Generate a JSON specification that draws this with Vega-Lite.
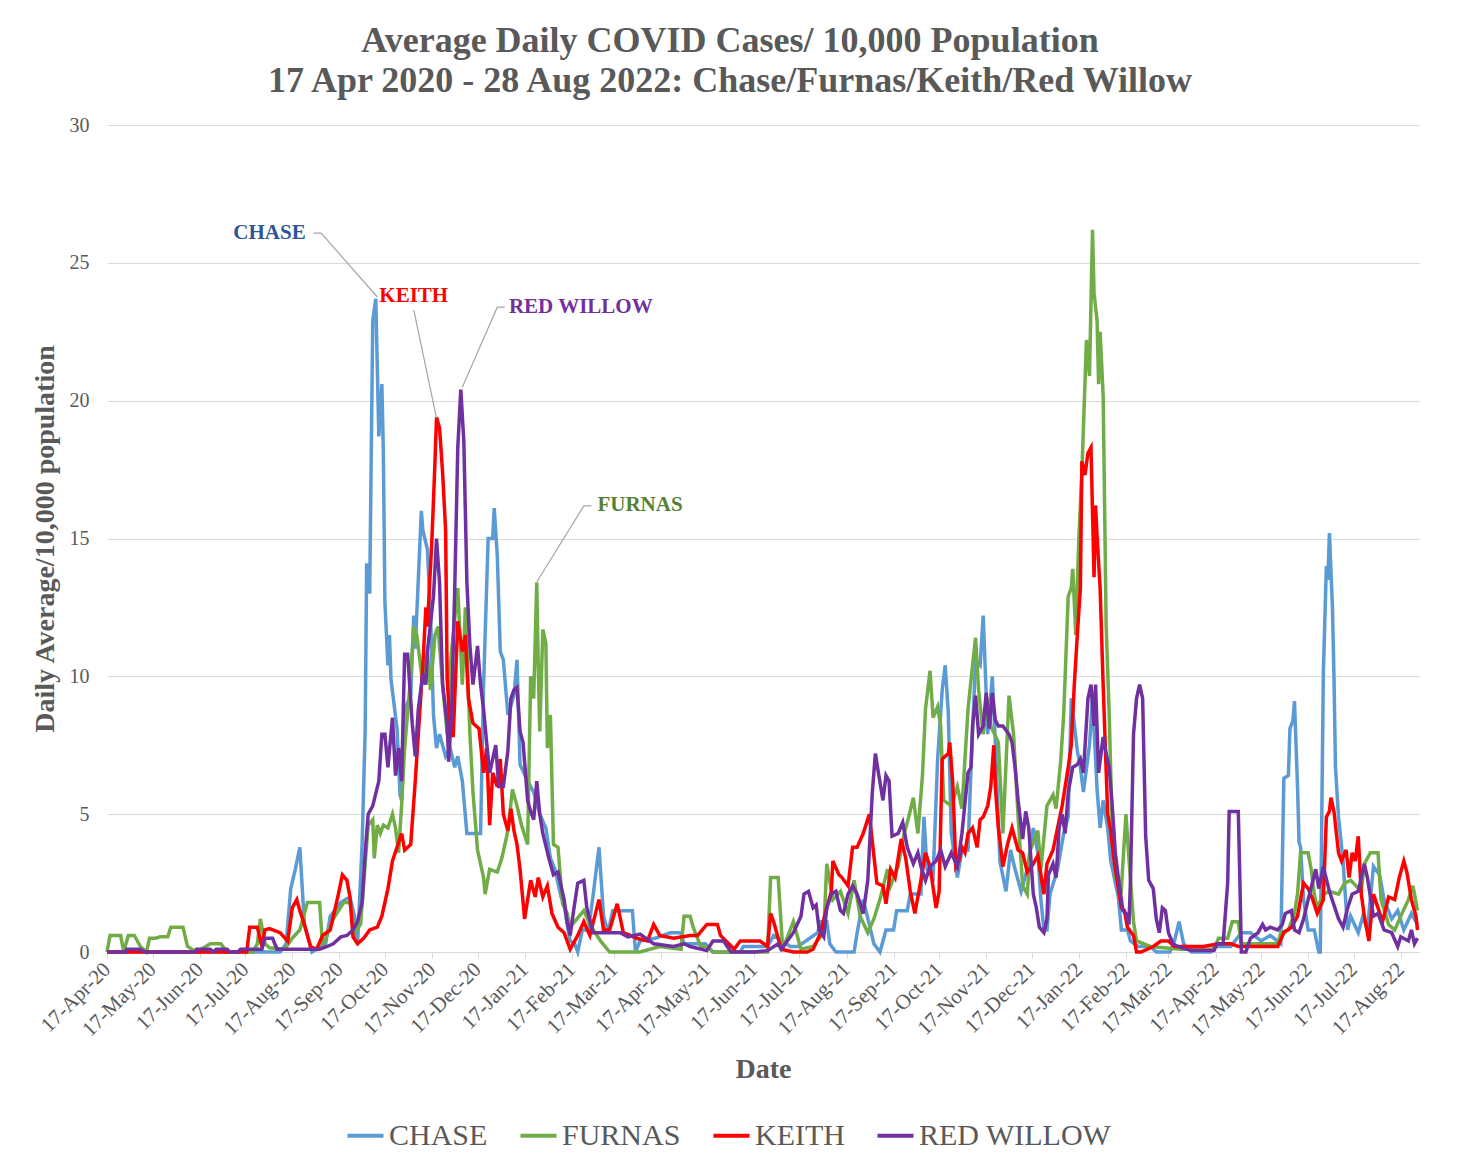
{
"$schema": "https://vega.github.io/schema/vega-lite/v6.json",
"width": 1312, "height": 827,
"autosize": {"type": "none"},
"padding": {"left": 107, "top": 125, "right": 41, "bottom": 213},
"background": "white",
"config": {"view": {"stroke": null}, "font": "Liberation Serif"},
"title": {"text": ["Average Daily COVID Cases/ 10,000 Population", "17 Apr 2020 - 28 Aug 2022: Chase/Furnas/Keith/Red Willow"], "font": "Liberation Serif", "fontSize": 36, "fontWeight": "bold", "color": "#595959", "lineHeight": 40, "anchor": "middle", "dx": -33, "offset": 15},
"datasets": {
"series": [
{"county":"CHASE","date":"2020-04-17","value":0},{"county":"CHASE","date":"2020-08-09","value":0},{"county":"CHASE","date":"2020-08-13","value":0.3},{"county":"CHASE","date":"2020-08-16","value":2.3},{"county":"CHASE","date":"2020-08-19","value":3},{"county":"CHASE","date":"2020-08-22","value":3.8},{"county":"CHASE","date":"2020-08-25","value":1},{"county":"CHASE","date":"2020-08-30","value":0},{"county":"CHASE","date":"2020-09-08","value":0.3},{"county":"CHASE","date":"2020-09-11","value":1.3},{"county":"CHASE","date":"2020-09-18","value":1.8},{"county":"CHASE","date":"2020-09-24","value":2},{"county":"CHASE","date":"2020-09-27","value":1.3},{"county":"CHASE","date":"2020-09-29","value":0.3},{"county":"CHASE","date":"2020-10-02","value":3.9},{"county":"CHASE","date":"2020-10-04","value":8},{"county":"CHASE","date":"2020-10-05","value":14.1},{"county":"CHASE","date":"2020-10-07","value":13},{"county":"CHASE","date":"2020-10-09","value":22.9},{"county":"CHASE","date":"2020-10-11","value":23.7},{"county":"CHASE","date":"2020-10-13","value":18.7},{"county":"CHASE","date":"2020-10-15","value":20.6},{"county":"CHASE","date":"2020-10-16","value":18.1},{"county":"CHASE","date":"2020-10-17","value":12.7},{"county":"CHASE","date":"2020-10-19","value":10.4},{"county":"CHASE","date":"2020-10-20","value":11.5},{"county":"CHASE","date":"2020-10-21","value":9.9},{"county":"CHASE","date":"2020-10-23","value":9},{"county":"CHASE","date":"2020-10-25","value":8.1},{"county":"CHASE","date":"2020-10-27","value":5.7},{"county":"CHASE","date":"2020-10-28","value":5.5},{"county":"CHASE","date":"2020-10-30","value":8.8},{"county":"CHASE","date":"2020-11-03","value":9.3},{"county":"CHASE","date":"2020-11-05","value":12.2},{"county":"CHASE","date":"2020-11-06","value":11},{"county":"CHASE","date":"2020-11-08","value":13.5},{"county":"CHASE","date":"2020-11-10","value":16},{"county":"CHASE","date":"2020-11-11","value":15.3},{"county":"CHASE","date":"2020-11-14","value":14.6},{"county":"CHASE","date":"2020-11-16","value":12.3},{"county":"CHASE","date":"2020-11-18","value":8.6},{"county":"CHASE","date":"2020-11-20","value":7.4},{"county":"CHASE","date":"2020-11-22","value":7.9},{"county":"CHASE","date":"2020-11-26","value":7.1},{"county":"CHASE","date":"2020-11-29","value":7.4},{"county":"CHASE","date":"2020-12-02","value":6.7},{"county":"CHASE","date":"2020-12-04","value":7.1},{"county":"CHASE","date":"2020-12-07","value":6.2},{"county":"CHASE","date":"2020-12-10","value":4.3},{"county":"CHASE","date":"2020-12-14","value":4.3},{"county":"CHASE","date":"2020-12-19","value":4.3},{"county":"CHASE","date":"2020-12-21","value":9.7},{"county":"CHASE","date":"2020-12-24","value":15},{"county":"CHASE","date":"2020-12-27","value":15},{"county":"CHASE","date":"2020-12-28","value":16.1},{"county":"CHASE","date":"2020-12-30","value":14.4},{"county":"CHASE","date":"2021-01-01","value":10.9},{"county":"CHASE","date":"2021-01-03","value":10.6},{"county":"CHASE","date":"2021-01-06","value":8.6},{"county":"CHASE","date":"2021-01-10","value":9.3},{"county":"CHASE","date":"2021-01-12","value":10.6},{"county":"CHASE","date":"2021-01-14","value":6.8},{"county":"CHASE","date":"2021-01-19","value":6.2},{"county":"CHASE","date":"2021-01-23","value":5.8},{"county":"CHASE","date":"2021-01-27","value":5},{"county":"CHASE","date":"2021-01-31","value":4.5},{"county":"CHASE","date":"2021-02-03","value":3.4},{"county":"CHASE","date":"2021-02-06","value":3},{"county":"CHASE","date":"2021-02-10","value":2},{"county":"CHASE","date":"2021-02-12","value":1.75},{"county":"CHASE","date":"2021-02-14","value":1},{"county":"CHASE","date":"2021-02-16","value":0.4},{"county":"CHASE","date":"2021-02-19","value":0.3},{"county":"CHASE","date":"2021-02-21","value":0},{"county":"CHASE","date":"2021-02-24","value":0.8},{"county":"CHASE","date":"2021-02-28","value":0.8},{"county":"CHASE","date":"2021-03-03","value":2},{"county":"CHASE","date":"2021-03-07","value":3.8},{"county":"CHASE","date":"2021-03-10","value":1.3},{"county":"CHASE","date":"2021-03-13","value":0.7},{"county":"CHASE","date":"2021-03-16","value":1.5},{"county":"CHASE","date":"2021-03-29","value":1.5},{"county":"CHASE","date":"2021-03-31","value":0},{"county":"CHASE","date":"2021-04-03","value":0.4},{"county":"CHASE","date":"2021-04-13","value":0.5},{"county":"CHASE","date":"2021-04-23","value":0.7},{"county":"CHASE","date":"2021-04-30","value":0.7},{"county":"CHASE","date":"2021-05-02","value":0.3},{"county":"CHASE","date":"2021-05-16","value":0.3},{"county":"CHASE","date":"2021-05-21","value":0},{"county":"CHASE","date":"2021-06-08","value":0},{"county":"CHASE","date":"2021-06-10","value":0.2},{"county":"CHASE","date":"2021-06-26","value":0.2},{"county":"CHASE","date":"2021-06-30","value":0.6},{"county":"CHASE","date":"2021-07-11","value":0.2},{"county":"CHASE","date":"2021-07-16","value":0.2},{"county":"CHASE","date":"2021-07-29","value":0.7},{"county":"CHASE","date":"2021-07-31","value":1.1},{"county":"CHASE","date":"2021-08-04","value":1.1},{"county":"CHASE","date":"2021-08-06","value":0.3},{"county":"CHASE","date":"2021-08-10","value":0},{"county":"CHASE","date":"2021-08-22","value":0},{"county":"CHASE","date":"2021-08-24","value":0.7},{"county":"CHASE","date":"2021-08-28","value":1.9},{"county":"CHASE","date":"2021-09-01","value":1},{"county":"CHASE","date":"2021-09-04","value":0.3},{"county":"CHASE","date":"2021-09-08","value":0},{"county":"CHASE","date":"2021-09-12","value":0.8},{"county":"CHASE","date":"2021-09-17","value":0.8},{"county":"CHASE","date":"2021-09-19","value":1.5},{"county":"CHASE","date":"2021-09-26","value":1.5},{"county":"CHASE","date":"2021-09-28","value":2.1},{"county":"CHASE","date":"2021-10-05","value":2.1},{"county":"CHASE","date":"2021-10-07","value":4.9},{"county":"CHASE","date":"2021-10-09","value":3},{"county":"CHASE","date":"2021-10-13","value":2.7},{"county":"CHASE","date":"2021-10-16","value":7},{"county":"CHASE","date":"2021-10-19","value":9.5},{"county":"CHASE","date":"2021-10-21","value":10.4},{"county":"CHASE","date":"2021-10-23","value":8.7},{"county":"CHASE","date":"2021-10-25","value":4.3},{"county":"CHASE","date":"2021-10-29","value":2.7},{"county":"CHASE","date":"2021-11-01","value":3.7},{"county":"CHASE","date":"2021-11-05","value":3.7},{"county":"CHASE","date":"2021-11-07","value":6.7},{"county":"CHASE","date":"2021-11-10","value":10.6},{"county":"CHASE","date":"2021-11-13","value":10.4},{"county":"CHASE","date":"2021-11-15","value":12.2},{"county":"CHASE","date":"2021-11-18","value":7.9},{"county":"CHASE","date":"2021-11-21","value":10},{"county":"CHASE","date":"2021-11-23","value":7.6},{"county":"CHASE","date":"2021-11-26","value":3.3},{"county":"CHASE","date":"2021-11-30","value":2.2},{"county":"CHASE","date":"2021-12-03","value":3.7},{"county":"CHASE","date":"2021-12-06","value":3},{"county":"CHASE","date":"2021-12-10","value":2.2},{"county":"CHASE","date":"2021-12-14","value":3},{"county":"CHASE","date":"2021-12-18","value":4.5},{"county":"CHASE","date":"2021-12-21","value":3.6},{"county":"CHASE","date":"2021-12-23","value":1.9},{"county":"CHASE","date":"2021-12-25","value":0.8},{"county":"CHASE","date":"2021-12-27","value":0.8},{"county":"CHASE","date":"2021-12-29","value":2.1},{"county":"CHASE","date":"2022-01-03","value":3},{"county":"CHASE","date":"2022-01-07","value":4.3},{"county":"CHASE","date":"2022-01-10","value":4.9},{"county":"CHASE","date":"2022-01-12","value":9.2},{"county":"CHASE","date":"2022-01-16","value":7.3},{"county":"CHASE","date":"2022-01-18","value":6.7},{"county":"CHASE","date":"2022-01-20","value":5.8},{"county":"CHASE","date":"2022-01-24","value":7.5},{"county":"CHASE","date":"2022-01-26","value":9.2},{"county":"CHASE","date":"2022-01-29","value":5.9},{"county":"CHASE","date":"2022-01-31","value":4.5},{"county":"CHASE","date":"2022-02-02","value":5.5},{"county":"CHASE","date":"2022-02-05","value":4.5},{"county":"CHASE","date":"2022-02-07","value":3.3},{"county":"CHASE","date":"2022-02-12","value":2},{"county":"CHASE","date":"2022-02-14","value":0.8},{"county":"CHASE","date":"2022-02-18","value":0.8},{"county":"CHASE","date":"2022-02-20","value":0.4},{"county":"CHASE","date":"2022-02-25","value":0.2},{"county":"CHASE","date":"2022-03-05","value":0.2},{"county":"CHASE","date":"2022-03-09","value":0},{"county":"CHASE","date":"2022-03-18","value":0},{"county":"CHASE","date":"2022-03-21","value":0.4},{"county":"CHASE","date":"2022-03-24","value":1.1},{"county":"CHASE","date":"2022-03-27","value":0.3},{"county":"CHASE","date":"2022-04-01","value":0},{"county":"CHASE","date":"2022-04-14","value":0},{"county":"CHASE","date":"2022-04-16","value":0.2},{"county":"CHASE","date":"2022-04-27","value":0.2},{"county":"CHASE","date":"2022-05-04","value":0.7},{"county":"CHASE","date":"2022-05-10","value":0.7},{"county":"CHASE","date":"2022-05-17","value":0.4},{"county":"CHASE","date":"2022-05-23","value":0.6},{"county":"CHASE","date":"2022-05-30","value":0.3},{"county":"CHASE","date":"2022-06-01","value":6.3},{"county":"CHASE","date":"2022-06-04","value":6.4},{"county":"CHASE","date":"2022-06-05","value":8.1},{"county":"CHASE","date":"2022-06-07","value":8.4},{"county":"CHASE","date":"2022-06-08","value":9.1},{"county":"CHASE","date":"2022-06-10","value":6},{"county":"CHASE","date":"2022-06-11","value":4},{"county":"CHASE","date":"2022-06-12","value":3.8},{"county":"CHASE","date":"2022-06-14","value":1.9},{"county":"CHASE","date":"2022-06-17","value":0.8},{"county":"CHASE","date":"2022-06-21","value":0.8},{"county":"CHASE","date":"2022-06-24","value":0},{"county":"CHASE","date":"2022-06-25","value":0},{"county":"CHASE","date":"2022-06-27","value":10.1},{"county":"CHASE","date":"2022-06-29","value":14},{"county":"CHASE","date":"2022-06-30","value":13.5},{"county":"CHASE","date":"2022-07-01","value":15.2},{"county":"CHASE","date":"2022-07-03","value":12.5},{"county":"CHASE","date":"2022-07-04","value":10},{"county":"CHASE","date":"2022-07-05","value":6.7},{"county":"CHASE","date":"2022-07-07","value":4.9},{"county":"CHASE","date":"2022-07-10","value":3.3},{"county":"CHASE","date":"2022-07-13","value":0.8},{"county":"CHASE","date":"2022-07-15","value":1.3},{"county":"CHASE","date":"2022-07-20","value":0.7},{"county":"CHASE","date":"2022-07-23","value":1.3},{"county":"CHASE","date":"2022-07-26","value":0.8},{"county":"CHASE","date":"2022-07-30","value":3.1},{"county":"CHASE","date":"2022-08-03","value":2.8},{"county":"CHASE","date":"2022-08-06","value":1.9},{"county":"CHASE","date":"2022-08-11","value":1.2},{"county":"CHASE","date":"2022-08-15","value":1.5},{"county":"CHASE","date":"2022-08-19","value":0.8},{"county":"CHASE","date":"2022-08-24","value":1.4},{"county":"CHASE","date":"2022-08-28","value":1},
{"county":"FURNAS","date":"2020-04-17","value":0},{"county":"FURNAS","date":"2020-04-19","value":0.6},{"county":"FURNAS","date":"2020-04-26","value":0.6},{"county":"FURNAS","date":"2020-04-28","value":0},{"county":"FURNAS","date":"2020-05-01","value":0.6},{"county":"FURNAS","date":"2020-05-05","value":0.6},{"county":"FURNAS","date":"2020-05-09","value":0.2},{"county":"FURNAS","date":"2020-05-13","value":0},{"county":"FURNAS","date":"2020-05-15","value":0.5},{"county":"FURNAS","date":"2020-05-19","value":0.5},{"county":"FURNAS","date":"2020-05-22","value":0.55},{"county":"FURNAS","date":"2020-05-27","value":0.55},{"county":"FURNAS","date":"2020-05-29","value":0.9},{"county":"FURNAS","date":"2020-06-06","value":0.9},{"county":"FURNAS","date":"2020-06-09","value":0.2},{"county":"FURNAS","date":"2020-06-15","value":0},{"county":"FURNAS","date":"2020-06-24","value":0.3},{"county":"FURNAS","date":"2020-07-01","value":0.3},{"county":"FURNAS","date":"2020-07-05","value":0},{"county":"FURNAS","date":"2020-07-22","value":0},{"county":"FURNAS","date":"2020-07-25","value":0.3},{"county":"FURNAS","date":"2020-07-27","value":1.2},{"county":"FURNAS","date":"2020-07-30","value":0.3},{"county":"FURNAS","date":"2020-08-02","value":0.15},{"county":"FURNAS","date":"2020-08-12","value":0.1},{"county":"FURNAS","date":"2020-08-17","value":0.5},{"county":"FURNAS","date":"2020-08-22","value":0.8},{"county":"FURNAS","date":"2020-08-27","value":1.8},{"county":"FURNAS","date":"2020-09-04","value":1.8},{"county":"FURNAS","date":"2020-09-06","value":0.2},{"county":"FURNAS","date":"2020-09-13","value":1.2},{"county":"FURNAS","date":"2020-09-20","value":1.8},{"county":"FURNAS","date":"2020-09-24","value":1.8},{"county":"FURNAS","date":"2020-09-27","value":0.7},{"county":"FURNAS","date":"2020-10-01","value":1},{"county":"FURNAS","date":"2020-10-04","value":3.2},{"county":"FURNAS","date":"2020-10-06","value":4.6},{"county":"FURNAS","date":"2020-10-09","value":4.8},{"county":"FURNAS","date":"2020-10-10","value":3.4},{"county":"FURNAS","date":"2020-10-12","value":4.6},{"county":"FURNAS","date":"2020-10-14","value":4.3},{"county":"FURNAS","date":"2020-10-16","value":4.6},{"county":"FURNAS","date":"2020-10-19","value":4.5},{"county":"FURNAS","date":"2020-10-22","value":5},{"county":"FURNAS","date":"2020-10-24","value":4.5},{"county":"FURNAS","date":"2020-10-26","value":3.6},{"county":"FURNAS","date":"2020-10-28","value":5.3},{"county":"FURNAS","date":"2020-10-30","value":7.4},{"county":"FURNAS","date":"2020-11-03","value":10},{"county":"FURNAS","date":"2020-11-05","value":11.8},{"county":"FURNAS","date":"2020-11-07","value":11.5},{"county":"FURNAS","date":"2020-11-11","value":9.7},{"county":"FURNAS","date":"2020-11-14","value":10.9},{"county":"FURNAS","date":"2020-11-16","value":9.5},{"county":"FURNAS","date":"2020-11-19","value":11.5},{"county":"FURNAS","date":"2020-11-21","value":11.8},{"county":"FURNAS","date":"2020-11-24","value":9.7},{"county":"FURNAS","date":"2020-11-27","value":7.9},{"county":"FURNAS","date":"2020-11-29","value":10.4},{"county":"FURNAS","date":"2020-12-04","value":13.2},{"county":"FURNAS","date":"2020-12-07","value":9.7},{"county":"FURNAS","date":"2020-12-09","value":12.5},{"county":"FURNAS","date":"2020-12-12","value":7.9},{"county":"FURNAS","date":"2020-12-14","value":5.8},{"county":"FURNAS","date":"2020-12-17","value":3.7},{"county":"FURNAS","date":"2020-12-19","value":3.2},{"county":"FURNAS","date":"2020-12-21","value":2.7},{"county":"FURNAS","date":"2020-12-22","value":2.1},{"county":"FURNAS","date":"2020-12-25","value":3},{"county":"FURNAS","date":"2020-12-30","value":2.9},{"county":"FURNAS","date":"2021-01-02","value":3.4},{"county":"FURNAS","date":"2021-01-06","value":4.4},{"county":"FURNAS","date":"2021-01-09","value":5.9},{"county":"FURNAS","date":"2021-01-12","value":5.3},{"county":"FURNAS","date":"2021-01-15","value":4.6},{"county":"FURNAS","date":"2021-01-19","value":3.9},{"county":"FURNAS","date":"2021-01-21","value":10},{"county":"FURNAS","date":"2021-01-23","value":9.2},{"county":"FURNAS","date":"2021-01-25","value":13.4},{"county":"FURNAS","date":"2021-01-26","value":10.3},{"county":"FURNAS","date":"2021-01-27","value":8},{"county":"FURNAS","date":"2021-01-29","value":11.7},{"county":"FURNAS","date":"2021-01-31","value":11.2},{"county":"FURNAS","date":"2021-02-01","value":7.4},{"county":"FURNAS","date":"2021-02-03","value":8.6},{"county":"FURNAS","date":"2021-02-05","value":3.9},{"county":"FURNAS","date":"2021-02-08","value":3.8},{"county":"FURNAS","date":"2021-02-11","value":1.75},{"county":"FURNAS","date":"2021-02-14","value":1.4},{"county":"FURNAS","date":"2021-02-16","value":0.9},{"county":"FURNAS","date":"2021-02-25","value":1.5},{"county":"FURNAS","date":"2021-03-01","value":1},{"county":"FURNAS","date":"2021-03-08","value":0.4},{"county":"FURNAS","date":"2021-03-14","value":0},{"county":"FURNAS","date":"2021-04-03","value":0},{"county":"FURNAS","date":"2021-04-16","value":0.2},{"county":"FURNAS","date":"2021-04-30","value":0.1},{"county":"FURNAS","date":"2021-05-02","value":1.3},{"county":"FURNAS","date":"2021-05-06","value":1.3},{"county":"FURNAS","date":"2021-05-08","value":0.9},{"county":"FURNAS","date":"2021-05-13","value":0.2},{"county":"FURNAS","date":"2021-05-17","value":0.2},{"county":"FURNAS","date":"2021-05-21","value":0},{"county":"FURNAS","date":"2021-06-26","value":0},{"county":"FURNAS","date":"2021-06-28","value":2.7},{"county":"FURNAS","date":"2021-07-03","value":2.7},{"county":"FURNAS","date":"2021-07-06","value":0.1},{"county":"FURNAS","date":"2021-07-13","value":1.1},{"county":"FURNAS","date":"2021-07-18","value":0.1},{"county":"FURNAS","date":"2021-07-26","value":0.2},{"county":"FURNAS","date":"2021-08-02","value":0.7},{"county":"FURNAS","date":"2021-08-04","value":3.2},{"county":"FURNAS","date":"2021-08-08","value":1.9},{"county":"FURNAS","date":"2021-08-13","value":2.2},{"county":"FURNAS","date":"2021-08-18","value":1.4},{"county":"FURNAS","date":"2021-08-22","value":2.6},{"county":"FURNAS","date":"2021-08-26","value":1.3},{"county":"FURNAS","date":"2021-08-31","value":0.7},{"county":"FURNAS","date":"2021-09-04","value":1.2},{"county":"FURNAS","date":"2021-09-08","value":1.9},{"county":"FURNAS","date":"2021-09-13","value":3},{"county":"FURNAS","date":"2021-09-15","value":2.4},{"county":"FURNAS","date":"2021-09-20","value":3.1},{"county":"FURNAS","date":"2021-09-24","value":4.3},{"county":"FURNAS","date":"2021-09-27","value":4.9},{"county":"FURNAS","date":"2021-09-30","value":5.6},{"county":"FURNAS","date":"2021-10-03","value":4.3},{"county":"FURNAS","date":"2021-10-06","value":6.4},{"county":"FURNAS","date":"2021-10-08","value":8.8},{"county":"FURNAS","date":"2021-10-11","value":10.2},{"county":"FURNAS","date":"2021-10-13","value":8.5},{"county":"FURNAS","date":"2021-10-16","value":8.9},{"county":"FURNAS","date":"2021-10-18","value":8.2},{"county":"FURNAS","date":"2021-10-20","value":5.5},{"county":"FURNAS","date":"2021-10-25","value":5.3},{"county":"FURNAS","date":"2021-10-29","value":6},{"county":"FURNAS","date":"2021-11-01","value":5.2},{"county":"FURNAS","date":"2021-11-05","value":8.8},{"county":"FURNAS","date":"2021-11-08","value":10.4},{"county":"FURNAS","date":"2021-11-10","value":11.4},{"county":"FURNAS","date":"2021-11-12","value":9.5},{"county":"FURNAS","date":"2021-11-15","value":7.9},{"county":"FURNAS","date":"2021-11-18","value":9.2},{"county":"FURNAS","date":"2021-11-20","value":8.2},{"county":"FURNAS","date":"2021-11-25","value":7.6},{"county":"FURNAS","date":"2021-11-28","value":4.3},{"county":"FURNAS","date":"2021-12-02","value":9.3},{"county":"FURNAS","date":"2021-12-05","value":7.9},{"county":"FURNAS","date":"2021-12-08","value":4.9},{"county":"FURNAS","date":"2021-12-11","value":2.4},{"county":"FURNAS","date":"2021-12-14","value":2.1},{"county":"FURNAS","date":"2021-12-16","value":3.7},{"county":"FURNAS","date":"2021-12-21","value":4.4},{"county":"FURNAS","date":"2021-12-23","value":3},{"county":"FURNAS","date":"2021-12-27","value":5.3},{"county":"FURNAS","date":"2021-12-31","value":5.7},{"county":"FURNAS","date":"2022-01-02","value":5.2},{"county":"FURNAS","date":"2022-01-05","value":6.9},{"county":"FURNAS","date":"2022-01-07","value":8.6},{"county":"FURNAS","date":"2022-01-10","value":12.9},{"county":"FURNAS","date":"2022-01-12","value":13.2},{"county":"FURNAS","date":"2022-01-13","value":13.9},{"county":"FURNAS","date":"2022-01-15","value":11.5},{"county":"FURNAS","date":"2022-01-17","value":15},{"county":"FURNAS","date":"2022-01-19","value":17.4},{"county":"FURNAS","date":"2022-01-22","value":22.2},{"county":"FURNAS","date":"2022-01-24","value":20.9},{"county":"FURNAS","date":"2022-01-26","value":26.2},{"county":"FURNAS","date":"2022-01-27","value":23.9},{"county":"FURNAS","date":"2022-01-29","value":22.9},{"county":"FURNAS","date":"2022-01-30","value":20.6},{"county":"FURNAS","date":"2022-01-31","value":22.5},{"county":"FURNAS","date":"2022-02-02","value":20.2},{"county":"FURNAS","date":"2022-02-04","value":11.8},{"county":"FURNAS","date":"2022-02-06","value":8.6},{"county":"FURNAS","date":"2022-02-08","value":4.4},{"county":"FURNAS","date":"2022-02-10","value":2.7},{"county":"FURNAS","date":"2022-02-14","value":2.3},{"county":"FURNAS","date":"2022-02-17","value":5},{"county":"FURNAS","date":"2022-02-19","value":3.4},{"county":"FURNAS","date":"2022-02-22","value":1.1},{"county":"FURNAS","date":"2022-02-24","value":0.4},{"county":"FURNAS","date":"2022-03-05","value":0.2},{"county":"FURNAS","date":"2022-03-25","value":0.1},{"county":"FURNAS","date":"2022-04-16","value":0.1},{"county":"FURNAS","date":"2022-04-19","value":0.5},{"county":"FURNAS","date":"2022-04-25","value":0.5},{"county":"FURNAS","date":"2022-04-28","value":1.1},{"county":"FURNAS","date":"2022-05-02","value":1.1},{"county":"FURNAS","date":"2022-05-04","value":0.3},{"county":"FURNAS","date":"2022-05-28","value":0.3},{"county":"FURNAS","date":"2022-05-30","value":0.7},{"county":"FURNAS","date":"2022-06-04","value":0.8},{"county":"FURNAS","date":"2022-06-08","value":1.4},{"county":"FURNAS","date":"2022-06-10","value":2.1},{"county":"FURNAS","date":"2022-06-12","value":3.6},{"county":"FURNAS","date":"2022-06-17","value":3.6},{"county":"FURNAS","date":"2022-06-19","value":3},{"county":"FURNAS","date":"2022-06-21","value":2.1},{"county":"FURNAS","date":"2022-06-23","value":1.6},{"county":"FURNAS","date":"2022-06-27","value":2.1},{"county":"FURNAS","date":"2022-07-01","value":2.2},{"county":"FURNAS","date":"2022-07-07","value":2.1},{"county":"FURNAS","date":"2022-07-11","value":2.5},{"county":"FURNAS","date":"2022-07-15","value":2.6},{"county":"FURNAS","date":"2022-07-22","value":2.2},{"county":"FURNAS","date":"2022-07-24","value":3.2},{"county":"FURNAS","date":"2022-07-28","value":3.6},{"county":"FURNAS","date":"2022-08-02","value":3.6},{"county":"FURNAS","date":"2022-08-04","value":1.9},{"county":"FURNAS","date":"2022-08-09","value":1},{"county":"FURNAS","date":"2022-08-13","value":0.8},{"county":"FURNAS","date":"2022-08-17","value":1.3},{"county":"FURNAS","date":"2022-08-22","value":1.9},{"county":"FURNAS","date":"2022-08-25","value":2.4},{"county":"FURNAS","date":"2022-08-28","value":1.5},
{"county":"KEITH","date":"2020-04-17","value":0},{"county":"KEITH","date":"2020-07-18","value":0},{"county":"KEITH","date":"2020-07-20","value":0.9},{"county":"KEITH","date":"2020-07-25","value":0.9},{"county":"KEITH","date":"2020-07-28","value":0.2},{"county":"KEITH","date":"2020-07-30","value":0.8},{"county":"KEITH","date":"2020-08-02","value":0.85},{"county":"KEITH","date":"2020-08-09","value":0.7},{"county":"KEITH","date":"2020-08-14","value":0.4},{"county":"KEITH","date":"2020-08-17","value":1.6},{"county":"KEITH","date":"2020-08-20","value":1.9},{"county":"KEITH","date":"2020-08-22","value":1.5},{"county":"KEITH","date":"2020-08-25","value":1},{"county":"KEITH","date":"2020-08-29","value":0.2},{"county":"KEITH","date":"2020-09-02","value":0.1},{"county":"KEITH","date":"2020-09-06","value":0.6},{"county":"KEITH","date":"2020-09-11","value":0.8},{"county":"KEITH","date":"2020-09-16","value":2},{"county":"KEITH","date":"2020-09-19","value":2.8},{"county":"KEITH","date":"2020-09-22","value":2.6},{"county":"KEITH","date":"2020-09-24","value":2},{"county":"KEITH","date":"2020-09-26","value":0.55},{"county":"KEITH","date":"2020-09-29","value":0.3},{"county":"KEITH","date":"2020-10-03","value":0.5},{"county":"KEITH","date":"2020-10-07","value":0.8},{"county":"KEITH","date":"2020-10-12","value":0.9},{"county":"KEITH","date":"2020-10-15","value":1.3},{"county":"KEITH","date":"2020-10-19","value":2.3},{"county":"KEITH","date":"2020-10-22","value":3.3},{"county":"KEITH","date":"2020-10-25","value":3.8},{"county":"KEITH","date":"2020-10-28","value":4.3},{"county":"KEITH","date":"2020-10-30","value":3.7},{"county":"KEITH","date":"2020-11-03","value":3.9},{"county":"KEITH","date":"2020-11-06","value":6.2},{"county":"KEITH","date":"2020-11-08","value":7.9},{"county":"KEITH","date":"2020-11-11","value":10.4},{"county":"KEITH","date":"2020-11-13","value":12.5},{"county":"KEITH","date":"2020-11-14","value":11.8},{"county":"KEITH","date":"2020-11-17","value":15},{"county":"KEITH","date":"2020-11-19","value":17.8},{"county":"KEITH","date":"2020-11-20","value":19.4},{"county":"KEITH","date":"2020-11-22","value":19},{"county":"KEITH","date":"2020-11-24","value":17.4},{"county":"KEITH","date":"2020-11-26","value":15.3},{"county":"KEITH","date":"2020-11-27","value":9.9},{"county":"KEITH","date":"2020-11-29","value":8.1},{"county":"KEITH","date":"2020-12-01","value":7.8},{"county":"KEITH","date":"2020-12-04","value":12},{"county":"KEITH","date":"2020-12-07","value":10.9},{"county":"KEITH","date":"2020-12-09","value":11.5},{"county":"KEITH","date":"2020-12-11","value":9.2},{"county":"KEITH","date":"2020-12-14","value":8.3},{"county":"KEITH","date":"2020-12-18","value":8.1},{"county":"KEITH","date":"2020-12-21","value":6.5},{"county":"KEITH","date":"2020-12-23","value":7.4},{"county":"KEITH","date":"2020-12-25","value":4.6},{"county":"KEITH","date":"2020-12-27","value":6.5},{"county":"KEITH","date":"2020-12-30","value":6},{"county":"KEITH","date":"2021-01-01","value":7},{"county":"KEITH","date":"2021-01-03","value":5},{"county":"KEITH","date":"2021-01-06","value":4.4},{"county":"KEITH","date":"2021-01-08","value":5.2},{"county":"KEITH","date":"2021-01-10","value":4.4},{"county":"KEITH","date":"2021-01-12","value":3.9},{"county":"KEITH","date":"2021-01-14","value":3},{"county":"KEITH","date":"2021-01-16","value":1.8},{"county":"KEITH","date":"2021-01-17","value":1.2},{"county":"KEITH","date":"2021-01-21","value":2.6},{"county":"KEITH","date":"2021-01-24","value":2},{"county":"KEITH","date":"2021-01-26","value":2.7},{"county":"KEITH","date":"2021-01-29","value":2},{"county":"KEITH","date":"2021-02-01","value":2.4},{"county":"KEITH","date":"2021-02-04","value":1.4},{"county":"KEITH","date":"2021-02-08","value":0.9},{"county":"KEITH","date":"2021-02-12","value":0.7},{"county":"KEITH","date":"2021-02-16","value":0.1},{"county":"KEITH","date":"2021-02-21","value":0.6},{"county":"KEITH","date":"2021-02-25","value":1.1},{"county":"KEITH","date":"2021-03-01","value":0.6},{"county":"KEITH","date":"2021-03-07","value":1.9},{"county":"KEITH","date":"2021-03-10","value":0.8},{"county":"KEITH","date":"2021-03-14","value":0.8},{"county":"KEITH","date":"2021-03-19","value":1.75},{"county":"KEITH","date":"2021-03-23","value":0.7},{"county":"KEITH","date":"2021-04-01","value":0.5},{"county":"KEITH","date":"2021-04-08","value":0.4},{"county":"KEITH","date":"2021-04-12","value":1},{"county":"KEITH","date":"2021-04-16","value":0.6},{"county":"KEITH","date":"2021-04-25","value":0.5},{"county":"KEITH","date":"2021-05-06","value":0.6},{"county":"KEITH","date":"2021-05-11","value":0.6},{"county":"KEITH","date":"2021-05-17","value":1},{"county":"KEITH","date":"2021-05-24","value":1},{"county":"KEITH","date":"2021-05-26","value":0.6},{"county":"KEITH","date":"2021-06-04","value":0.1},{"county":"KEITH","date":"2021-06-08","value":0.4},{"county":"KEITH","date":"2021-06-21","value":0.4},{"county":"KEITH","date":"2021-06-26","value":0.2},{"county":"KEITH","date":"2021-06-28","value":1.4},{"county":"KEITH","date":"2021-06-30","value":1.1},{"county":"KEITH","date":"2021-07-05","value":0.1},{"county":"KEITH","date":"2021-07-13","value":0},{"county":"KEITH","date":"2021-07-22","value":0},{"county":"KEITH","date":"2021-07-26","value":0.1},{"county":"KEITH","date":"2021-07-31","value":0.7},{"county":"KEITH","date":"2021-08-03","value":1.4},{"county":"KEITH","date":"2021-08-07","value":2.2},{"county":"KEITH","date":"2021-08-08","value":3.3},{"county":"KEITH","date":"2021-08-12","value":2.8},{"county":"KEITH","date":"2021-08-14","value":2.7},{"county":"KEITH","date":"2021-08-18","value":2.4},{"county":"KEITH","date":"2021-08-21","value":3.8},{"county":"KEITH","date":"2021-08-24","value":3.8},{"county":"KEITH","date":"2021-08-28","value":4.3},{"county":"KEITH","date":"2021-09-01","value":5},{"county":"KEITH","date":"2021-09-04","value":3.5},{"county":"KEITH","date":"2021-09-06","value":2.5},{"county":"KEITH","date":"2021-09-10","value":2.4},{"county":"KEITH","date":"2021-09-12","value":1.75},{"county":"KEITH","date":"2021-09-15","value":3},{"county":"KEITH","date":"2021-09-18","value":2.7},{"county":"KEITH","date":"2021-09-22","value":4.1},{"county":"KEITH","date":"2021-09-25","value":3.4},{"county":"KEITH","date":"2021-09-28","value":2.2},{"county":"KEITH","date":"2021-10-01","value":1.4},{"county":"KEITH","date":"2021-10-05","value":2.6},{"county":"KEITH","date":"2021-10-08","value":3.6},{"county":"KEITH","date":"2021-10-11","value":3.1},{"county":"KEITH","date":"2021-10-15","value":1.6},{"county":"KEITH","date":"2021-10-17","value":2.2},{"county":"KEITH","date":"2021-10-19","value":7},{"county":"KEITH","date":"2021-10-23","value":7.2},{"county":"KEITH","date":"2021-10-24","value":7.6},{"county":"KEITH","date":"2021-10-26","value":6.1},{"county":"KEITH","date":"2021-10-28","value":3.1},{"county":"KEITH","date":"2021-10-30","value":3.3},{"county":"KEITH","date":"2021-11-01","value":3.8},{"county":"KEITH","date":"2021-11-03","value":3.6},{"county":"KEITH","date":"2021-11-05","value":4.3},{"county":"KEITH","date":"2021-11-08","value":4.5},{"county":"KEITH","date":"2021-11-11","value":3.8},{"county":"KEITH","date":"2021-11-13","value":4.8},{"county":"KEITH","date":"2021-11-15","value":4.9},{"county":"KEITH","date":"2021-11-18","value":5.3},{"county":"KEITH","date":"2021-11-20","value":6},{"county":"KEITH","date":"2021-11-22","value":7.5},{"county":"KEITH","date":"2021-11-23","value":6},{"county":"KEITH","date":"2021-11-25","value":4.5},{"county":"KEITH","date":"2021-11-28","value":3.1},{"county":"KEITH","date":"2021-12-01","value":3.9},{"county":"KEITH","date":"2021-12-04","value":4.5},{"county":"KEITH","date":"2021-12-08","value":3.7},{"county":"KEITH","date":"2021-12-11","value":3.6},{"county":"KEITH","date":"2021-12-14","value":2.9},{"county":"KEITH","date":"2021-12-18","value":3.2},{"county":"KEITH","date":"2021-12-21","value":3.5},{"county":"KEITH","date":"2021-12-25","value":2.1},{"county":"KEITH","date":"2021-12-27","value":3.2},{"county":"KEITH","date":"2021-12-31","value":3.7},{"county":"KEITH","date":"2022-01-03","value":4.5},{"county":"KEITH","date":"2022-01-06","value":5.3},{"county":"KEITH","date":"2022-01-10","value":6.7},{"county":"KEITH","date":"2022-01-12","value":7.5},{"county":"KEITH","date":"2022-01-14","value":9.7},{"county":"KEITH","date":"2022-01-16","value":11.5},{"county":"KEITH","date":"2022-01-18","value":13.2},{"county":"KEITH","date":"2022-01-19","value":17.8},{"county":"KEITH","date":"2022-01-21","value":17.3},{"county":"KEITH","date":"2022-01-23","value":18.1},{"county":"KEITH","date":"2022-01-25","value":18.3},{"county":"KEITH","date":"2022-01-27","value":13.6},{"county":"KEITH","date":"2022-01-28","value":16.2},{"county":"KEITH","date":"2022-01-29","value":15.1},{"county":"KEITH","date":"2022-01-31","value":13.2},{"county":"KEITH","date":"2022-02-02","value":9.7},{"county":"KEITH","date":"2022-02-05","value":5},{"county":"KEITH","date":"2022-02-07","value":4.4},{"county":"KEITH","date":"2022-02-09","value":3.4},{"county":"KEITH","date":"2022-02-12","value":2.3},{"county":"KEITH","date":"2022-02-14","value":1.6},{"county":"KEITH","date":"2022-02-16","value":1.5},{"county":"KEITH","date":"2022-02-18","value":0.9},{"county":"KEITH","date":"2022-02-22","value":0.6},{"county":"KEITH","date":"2022-02-24","value":0},{"county":"KEITH","date":"2022-02-27","value":0},{"county":"KEITH","date":"2022-03-07","value":0.2},{"county":"KEITH","date":"2022-03-12","value":0.4},{"county":"KEITH","date":"2022-03-17","value":0.4},{"county":"KEITH","date":"2022-03-21","value":0.2},{"county":"KEITH","date":"2022-04-09","value":0.2},{"county":"KEITH","date":"2022-04-19","value":0.3},{"county":"KEITH","date":"2022-04-27","value":0.3},{"county":"KEITH","date":"2022-05-02","value":0.2},{"county":"KEITH","date":"2022-05-28","value":0.2},{"county":"KEITH","date":"2022-06-01","value":0.7},{"county":"KEITH","date":"2022-06-06","value":0.9},{"county":"KEITH","date":"2022-06-10","value":1.3},{"county":"KEITH","date":"2022-06-14","value":2.5},{"county":"KEITH","date":"2022-06-17","value":2.3},{"county":"KEITH","date":"2022-06-20","value":1.9},{"county":"KEITH","date":"2022-06-23","value":1.4},{"county":"KEITH","date":"2022-06-27","value":1.9},{"county":"KEITH","date":"2022-06-29","value":4.9},{"county":"KEITH","date":"2022-07-01","value":5.1},{"county":"KEITH","date":"2022-07-02","value":5.6},{"county":"KEITH","date":"2022-07-04","value":5.1},{"county":"KEITH","date":"2022-07-07","value":3.6},{"county":"KEITH","date":"2022-07-09","value":3.3},{"county":"KEITH","date":"2022-07-12","value":3.7},{"county":"KEITH","date":"2022-07-14","value":2.7},{"county":"KEITH","date":"2022-07-16","value":3.6},{"county":"KEITH","date":"2022-07-18","value":3.3},{"county":"KEITH","date":"2022-07-20","value":4.2},{"county":"KEITH","date":"2022-07-22","value":2.1},{"county":"KEITH","date":"2022-07-24","value":1.3},{"county":"KEITH","date":"2022-07-27","value":0.4},{"county":"KEITH","date":"2022-07-30","value":2.1},{"county":"KEITH","date":"2022-08-02","value":1.6},{"county":"KEITH","date":"2022-08-05","value":1.1},{"county":"KEITH","date":"2022-08-09","value":2},{"county":"KEITH","date":"2022-08-13","value":1.9},{"county":"KEITH","date":"2022-08-16","value":2.7},{"county":"KEITH","date":"2022-08-19","value":3.3},{"county":"KEITH","date":"2022-08-21","value":2.9},{"county":"KEITH","date":"2022-08-24","value":1.9},{"county":"KEITH","date":"2022-08-27","value":1.3},{"county":"KEITH","date":"2022-08-28","value":0.8},
{"county":"RED WILLOW","date":"2020-04-17","value":0},{"county":"RED WILLOW","date":"2020-04-29","value":0},{"county":"RED WILLOW","date":"2020-04-30","value":0.1},{"county":"RED WILLOW","date":"2020-05-09","value":0.1},{"county":"RED WILLOW","date":"2020-05-12","value":0},{"county":"RED WILLOW","date":"2020-06-14","value":0},{"county":"RED WILLOW","date":"2020-06-15","value":0.1},{"county":"RED WILLOW","date":"2020-06-24","value":0.1},{"county":"RED WILLOW","date":"2020-06-26","value":0},{"county":"RED WILLOW","date":"2020-06-28","value":0.1},{"county":"RED WILLOW","date":"2020-07-05","value":0.1},{"county":"RED WILLOW","date":"2020-07-07","value":0},{"county":"RED WILLOW","date":"2020-07-12","value":0},{"county":"RED WILLOW","date":"2020-07-14","value":0.1},{"county":"RED WILLOW","date":"2020-07-28","value":0.1},{"county":"RED WILLOW","date":"2020-07-30","value":0.5},{"county":"RED WILLOW","date":"2020-08-04","value":0.5},{"county":"RED WILLOW","date":"2020-08-07","value":0.1},{"county":"RED WILLOW","date":"2020-08-31","value":0.1},{"county":"RED WILLOW","date":"2020-09-04","value":0.1},{"county":"RED WILLOW","date":"2020-09-09","value":0.2},{"county":"RED WILLOW","date":"2020-09-13","value":0.3},{"county":"RED WILLOW","date":"2020-09-18","value":0.55},{"county":"RED WILLOW","date":"2020-09-22","value":0.6},{"county":"RED WILLOW","date":"2020-09-26","value":0.8},{"county":"RED WILLOW","date":"2020-09-29","value":1.1},{"county":"RED WILLOW","date":"2020-10-02","value":1.8},{"county":"RED WILLOW","date":"2020-10-04","value":3.6},{"county":"RED WILLOW","date":"2020-10-06","value":5},{"county":"RED WILLOW","date":"2020-10-09","value":5.3},{"county":"RED WILLOW","date":"2020-10-13","value":6.2},{"county":"RED WILLOW","date":"2020-10-15","value":7.9},{"county":"RED WILLOW","date":"2020-10-17","value":7.9},{"county":"RED WILLOW","date":"2020-10-19","value":6.7},{"county":"RED WILLOW","date":"2020-10-22","value":8.5},{"county":"RED WILLOW","date":"2020-10-24","value":6.4},{"county":"RED WILLOW","date":"2020-10-26","value":7.4},{"county":"RED WILLOW","date":"2020-10-28","value":6.2},{"county":"RED WILLOW","date":"2020-10-30","value":10.8},{"county":"RED WILLOW","date":"2020-11-01","value":10.8},{"county":"RED WILLOW","date":"2020-11-04","value":8.3},{"county":"RED WILLOW","date":"2020-11-06","value":7.1},{"county":"RED WILLOW","date":"2020-11-08","value":8.8},{"county":"RED WILLOW","date":"2020-11-11","value":10.1},{"county":"RED WILLOW","date":"2020-11-13","value":9.7},{"county":"RED WILLOW","date":"2020-11-14","value":10.9},{"county":"RED WILLOW","date":"2020-11-18","value":12.9},{"county":"RED WILLOW","date":"2020-11-20","value":15},{"county":"RED WILLOW","date":"2020-11-22","value":13.4},{"county":"RED WILLOW","date":"2020-11-24","value":9.7},{"county":"RED WILLOW","date":"2020-11-27","value":8.3},{"county":"RED WILLOW","date":"2020-11-28","value":6.9},{"county":"RED WILLOW","date":"2020-11-30","value":8.8},{"county":"RED WILLOW","date":"2020-12-02","value":13.2},{"county":"RED WILLOW","date":"2020-12-04","value":18.3},{"county":"RED WILLOW","date":"2020-12-06","value":20.4},{"county":"RED WILLOW","date":"2020-12-08","value":18.5},{"county":"RED WILLOW","date":"2020-12-10","value":13.4},{"county":"RED WILLOW","date":"2020-12-12","value":11.1},{"county":"RED WILLOW","date":"2020-12-14","value":9.7},{"county":"RED WILLOW","date":"2020-12-17","value":11.1},{"county":"RED WILLOW","date":"2020-12-19","value":9.7},{"county":"RED WILLOW","date":"2020-12-21","value":8.8},{"county":"RED WILLOW","date":"2020-12-23","value":7.6},{"county":"RED WILLOW","date":"2020-12-25","value":6.5},{"county":"RED WILLOW","date":"2020-12-29","value":7.5},{"county":"RED WILLOW","date":"2020-12-31","value":6},{"county":"RED WILLOW","date":"2021-01-03","value":6},{"county":"RED WILLOW","date":"2021-01-06","value":7.3},{"county":"RED WILLOW","date":"2021-01-08","value":9.2},{"county":"RED WILLOW","date":"2021-01-10","value":9.5},{"county":"RED WILLOW","date":"2021-01-12","value":9.6},{"county":"RED WILLOW","date":"2021-01-14","value":8},{"county":"RED WILLOW","date":"2021-01-16","value":7.6},{"county":"RED WILLOW","date":"2021-01-19","value":5.5},{"county":"RED WILLOW","date":"2021-01-21","value":5.1},{"county":"RED WILLOW","date":"2021-01-23","value":4.8},{"county":"RED WILLOW","date":"2021-01-25","value":6.2},{"county":"RED WILLOW","date":"2021-01-27","value":5},{"county":"RED WILLOW","date":"2021-01-29","value":4.3},{"county":"RED WILLOW","date":"2021-02-02","value":3.4},{"county":"RED WILLOW","date":"2021-02-05","value":2.8},{"county":"RED WILLOW","date":"2021-02-08","value":2.9},{"county":"RED WILLOW","date":"2021-02-12","value":1.9},{"county":"RED WILLOW","date":"2021-02-14","value":1.1},{"county":"RED WILLOW","date":"2021-02-16","value":0.6},{"county":"RED WILLOW","date":"2021-02-18","value":1.4},{"county":"RED WILLOW","date":"2021-02-21","value":2.5},{"county":"RED WILLOW","date":"2021-02-25","value":2.6},{"county":"RED WILLOW","date":"2021-02-27","value":1.6},{"county":"RED WILLOW","date":"2021-03-03","value":0.7},{"county":"RED WILLOW","date":"2021-03-21","value":0.7},{"county":"RED WILLOW","date":"2021-03-26","value":0.55},{"county":"RED WILLOW","date":"2021-04-03","value":0.65},{"county":"RED WILLOW","date":"2021-04-12","value":0.3},{"county":"RED WILLOW","date":"2021-04-25","value":0.2},{"county":"RED WILLOW","date":"2021-05-02","value":0.3},{"county":"RED WILLOW","date":"2021-05-06","value":0.2},{"county":"RED WILLOW","date":"2021-05-17","value":0.05},{"county":"RED WILLOW","date":"2021-05-21","value":0.4},{"county":"RED WILLOW","date":"2021-05-28","value":0.4},{"county":"RED WILLOW","date":"2021-06-02","value":0},{"county":"RED WILLOW","date":"2021-06-17","value":0},{"county":"RED WILLOW","date":"2021-06-26","value":0.05},{"county":"RED WILLOW","date":"2021-07-03","value":0.3},{"county":"RED WILLOW","date":"2021-07-05","value":0.1},{"county":"RED WILLOW","date":"2021-07-09","value":0.4},{"county":"RED WILLOW","date":"2021-07-13","value":0.7},{"county":"RED WILLOW","date":"2021-07-18","value":1.3},{"county":"RED WILLOW","date":"2021-07-20","value":2.1},{"county":"RED WILLOW","date":"2021-07-23","value":2.2},{"county":"RED WILLOW","date":"2021-07-26","value":1.6},{"county":"RED WILLOW","date":"2021-07-28","value":1.7},{"county":"RED WILLOW","date":"2021-07-30","value":0.8},{"county":"RED WILLOW","date":"2021-08-02","value":0.55},{"county":"RED WILLOW","date":"2021-08-04","value":1.6},{"county":"RED WILLOW","date":"2021-08-07","value":2.1},{"county":"RED WILLOW","date":"2021-08-10","value":2.2},{"county":"RED WILLOW","date":"2021-08-13","value":1.5},{"county":"RED WILLOW","date":"2021-08-15","value":1.4},{"county":"RED WILLOW","date":"2021-08-18","value":2.1},{"county":"RED WILLOW","date":"2021-08-21","value":2.4},{"county":"RED WILLOW","date":"2021-08-24","value":2.1},{"county":"RED WILLOW","date":"2021-08-28","value":1.4},{"county":"RED WILLOW","date":"2021-08-31","value":2.6},{"county":"RED WILLOW","date":"2021-09-03","value":5.8},{"county":"RED WILLOW","date":"2021-09-05","value":7.2},{"county":"RED WILLOW","date":"2021-09-07","value":6.5},{"county":"RED WILLOW","date":"2021-09-10","value":5.5},{"county":"RED WILLOW","date":"2021-09-12","value":6.4},{"county":"RED WILLOW","date":"2021-09-14","value":6.2},{"county":"RED WILLOW","date":"2021-09-16","value":4.2},{"county":"RED WILLOW","date":"2021-09-20","value":4.3},{"county":"RED WILLOW","date":"2021-09-23","value":4.7},{"county":"RED WILLOW","date":"2021-09-26","value":3.8},{"county":"RED WILLOW","date":"2021-09-30","value":3.2},{"county":"RED WILLOW","date":"2021-10-03","value":3.6},{"county":"RED WILLOW","date":"2021-10-05","value":3.1},{"county":"RED WILLOW","date":"2021-10-08","value":2.6},{"county":"RED WILLOW","date":"2021-10-11","value":3.1},{"county":"RED WILLOW","date":"2021-10-15","value":3.3},{"county":"RED WILLOW","date":"2021-10-18","value":3.7},{"county":"RED WILLOW","date":"2021-10-21","value":3.1},{"county":"RED WILLOW","date":"2021-10-25","value":3.6},{"county":"RED WILLOW","date":"2021-10-29","value":3.1},{"county":"RED WILLOW","date":"2021-11-01","value":4.3},{"county":"RED WILLOW","date":"2021-11-05","value":6.5},{"county":"RED WILLOW","date":"2021-11-07","value":6.7},{"county":"RED WILLOW","date":"2021-11-08","value":8.2},{"county":"RED WILLOW","date":"2021-11-10","value":9.3},{"county":"RED WILLOW","date":"2021-11-12","value":7.9},{"county":"RED WILLOW","date":"2021-11-15","value":8.2},{"county":"RED WILLOW","date":"2021-11-17","value":9.4},{"county":"RED WILLOW","date":"2021-11-19","value":8.1},{"county":"RED WILLOW","date":"2021-11-21","value":9.4},{"county":"RED WILLOW","date":"2021-11-23","value":8.4},{"county":"RED WILLOW","date":"2021-11-25","value":8.2},{"county":"RED WILLOW","date":"2021-11-28","value":8.2},{"county":"RED WILLOW","date":"2021-12-02","value":7.9},{"county":"RED WILLOW","date":"2021-12-04","value":7.6},{"county":"RED WILLOW","date":"2021-12-06","value":6.7},{"county":"RED WILLOW","date":"2021-12-08","value":5.5},{"county":"RED WILLOW","date":"2021-12-11","value":4.1},{"county":"RED WILLOW","date":"2021-12-13","value":5.1},{"county":"RED WILLOW","date":"2021-12-15","value":4.5},{"county":"RED WILLOW","date":"2021-12-18","value":2.1},{"county":"RED WILLOW","date":"2021-12-20","value":1.6},{"county":"RED WILLOW","date":"2021-12-22","value":0.9},{"county":"RED WILLOW","date":"2021-12-25","value":0.7},{"county":"RED WILLOW","date":"2021-12-27","value":1.2},{"county":"RED WILLOW","date":"2021-12-28","value":2.8},{"county":"RED WILLOW","date":"2021-12-31","value":3.2},{"county":"RED WILLOW","date":"2022-01-02","value":2.7},{"county":"RED WILLOW","date":"2022-01-04","value":4.5},{"county":"RED WILLOW","date":"2022-01-06","value":5},{"county":"RED WILLOW","date":"2022-01-08","value":4.3},{"county":"RED WILLOW","date":"2022-01-10","value":5.8},{"county":"RED WILLOW","date":"2022-01-13","value":6.7},{"county":"RED WILLOW","date":"2022-01-16","value":6.8},{"county":"RED WILLOW","date":"2022-01-18","value":7},{"county":"RED WILLOW","date":"2022-01-20","value":6.5},{"county":"RED WILLOW","date":"2022-01-23","value":9.2},{"county":"RED WILLOW","date":"2022-01-25","value":9.7},{"county":"RED WILLOW","date":"2022-01-27","value":8.2},{"county":"RED WILLOW","date":"2022-01-28","value":9.7},{"county":"RED WILLOW","date":"2022-01-30","value":6.5},{"county":"RED WILLOW","date":"2022-02-02","value":7.8},{"county":"RED WILLOW","date":"2022-02-04","value":7.2},{"county":"RED WILLOW","date":"2022-02-06","value":6.7},{"county":"RED WILLOW","date":"2022-02-08","value":5.3},{"county":"RED WILLOW","date":"2022-02-10","value":3.6},{"county":"RED WILLOW","date":"2022-02-12","value":2.7},{"county":"RED WILLOW","date":"2022-02-15","value":1.5},{"county":"RED WILLOW","date":"2022-02-17","value":1.4},{"county":"RED WILLOW","date":"2022-02-19","value":1},{"county":"RED WILLOW","date":"2022-02-20","value":2.6},{"county":"RED WILLOW","date":"2022-02-22","value":7.9},{"county":"RED WILLOW","date":"2022-02-24","value":9.2},{"county":"RED WILLOW","date":"2022-02-26","value":9.7},{"county":"RED WILLOW","date":"2022-02-28","value":9.2},{"county":"RED WILLOW","date":"2022-03-02","value":4.2},{"county":"RED WILLOW","date":"2022-03-04","value":2.6},{"county":"RED WILLOW","date":"2022-03-07","value":2.3},{"county":"RED WILLOW","date":"2022-03-09","value":1.2},{"county":"RED WILLOW","date":"2022-03-11","value":0.7},{"county":"RED WILLOW","date":"2022-03-13","value":1.6},{"county":"RED WILLOW","date":"2022-03-15","value":1.5},{"county":"RED WILLOW","date":"2022-03-17","value":0.7},{"county":"RED WILLOW","date":"2022-03-20","value":0.3},{"county":"RED WILLOW","date":"2022-03-23","value":0.2},{"county":"RED WILLOW","date":"2022-04-01","value":0.05},{"county":"RED WILLOW","date":"2022-04-16","value":0.05},{"county":"RED WILLOW","date":"2022-04-18","value":0.3},{"county":"RED WILLOW","date":"2022-04-22","value":0.3},{"county":"RED WILLOW","date":"2022-04-25","value":2.5},{"county":"RED WILLOW","date":"2022-04-26","value":5.1},{"county":"RED WILLOW","date":"2022-05-02","value":5.1},{"county":"RED WILLOW","date":"2022-05-03","value":2.7},{"county":"RED WILLOW","date":"2022-05-04","value":0},{"county":"RED WILLOW","date":"2022-05-07","value":0},{"county":"RED WILLOW","date":"2022-05-10","value":0.5},{"county":"RED WILLOW","date":"2022-05-15","value":0.7},{"county":"RED WILLOW","date":"2022-05-18","value":1},{"county":"RED WILLOW","date":"2022-05-20","value":0.8},{"county":"RED WILLOW","date":"2022-05-23","value":0.9},{"county":"RED WILLOW","date":"2022-05-28","value":0.8},{"county":"RED WILLOW","date":"2022-05-31","value":1},{"county":"RED WILLOW","date":"2022-06-02","value":1.4},{"county":"RED WILLOW","date":"2022-06-06","value":1.5},{"county":"RED WILLOW","date":"2022-06-08","value":0.8},{"county":"RED WILLOW","date":"2022-06-11","value":0.7},{"county":"RED WILLOW","date":"2022-06-14","value":1.2},{"county":"RED WILLOW","date":"2022-06-17","value":1.9},{"county":"RED WILLOW","date":"2022-06-22","value":3},{"county":"RED WILLOW","date":"2022-06-24","value":2.3},{"county":"RED WILLOW","date":"2022-06-27","value":3.1},{"county":"RED WILLOW","date":"2022-07-01","value":2.2},{"county":"RED WILLOW","date":"2022-07-04","value":1.7},{"county":"RED WILLOW","date":"2022-07-07","value":1.2},{"county":"RED WILLOW","date":"2022-07-10","value":0.9},{"county":"RED WILLOW","date":"2022-07-13","value":1.6},{"county":"RED WILLOW","date":"2022-07-16","value":2.1},{"county":"RED WILLOW","date":"2022-07-20","value":2.2},{"county":"RED WILLOW","date":"2022-07-24","value":3.2},{"county":"RED WILLOW","date":"2022-07-26","value":2.7},{"county":"RED WILLOW","date":"2022-07-30","value":1.3},{"county":"RED WILLOW","date":"2022-08-02","value":1.4},{"county":"RED WILLOW","date":"2022-08-06","value":0.8},{"county":"RED WILLOW","date":"2022-08-11","value":0.7},{"county":"RED WILLOW","date":"2022-08-15","value":0.2},{"county":"RED WILLOW","date":"2022-08-17","value":0.55},{"county":"RED WILLOW","date":"2022-08-22","value":0.4},{"county":"RED WILLOW","date":"2022-08-24","value":0.8},{"county":"RED WILLOW","date":"2022-08-26","value":0.3},{"county":"RED WILLOW","date":"2022-08-28","value":0.5}
],
"notes": [
{"note":"CHASE","date":"2020-08-02","value":26.1},
{"note":"KEITH","date":"2020-11-05","value":23.8},
{"note":"RED WILLOW","date":"2021-02-23","value":23.4},
{"note":"FURNAS","date":"2021-04-03","value":16.2}
],
"leaders": [
{"note":"CHASE","step":1,"date":"2020-08-31","value":26.08},{"note":"CHASE","step":2,"date":"2020-09-05","value":26.08},{"note":"CHASE","step":3,"date":"2020-10-12","value":23.76},
{"note":"KEITH","step":1,"date":"2020-11-05","value":23.29},{"note":"KEITH","step":2,"date":"2020-11-20","value":19.37},
{"note":"RED WILLOW","step":1,"date":"2021-01-04","value":23.39},{"note":"RED WILLOW","step":2,"date":"2020-12-30","value":23.39},{"note":"RED WILLOW","step":3,"date":"2020-12-07","value":20.49},
{"note":"FURNAS","step":1,"date":"2021-03-02","value":16.18},{"note":"FURNAS","step":2,"date":"2021-02-25","value":16.18},{"note":"FURNAS","step":3,"date":"2021-01-25","value":13.42}
]
},
"encoding": {
"x": {"field": "date", "type": "temporal", "title": "Date",
 "scale": {"type": "utc", "domain": [{"year":2020,"month":4,"date":17,"utc":true},{"year":2022,"month":8,"date":29,"utc":true}]},
 "axis": {"values": [
 {"year":2020,"month":4,"date":17,"utc":true},{"year":2020,"month":5,"date":17,"utc":true},{"year":2020,"month":6,"date":17,"utc":true},{"year":2020,"month":7,"date":17,"utc":true},{"year":2020,"month":8,"date":17,"utc":true},{"year":2020,"month":9,"date":17,"utc":true},{"year":2020,"month":10,"date":17,"utc":true},{"year":2020,"month":11,"date":17,"utc":true},{"year":2020,"month":12,"date":17,"utc":true},
 {"year":2021,"month":1,"date":17,"utc":true},{"year":2021,"month":2,"date":17,"utc":true},{"year":2021,"month":3,"date":17,"utc":true},{"year":2021,"month":4,"date":17,"utc":true},{"year":2021,"month":5,"date":17,"utc":true},{"year":2021,"month":6,"date":17,"utc":true},{"year":2021,"month":7,"date":17,"utc":true},{"year":2021,"month":8,"date":17,"utc":true},{"year":2021,"month":9,"date":17,"utc":true},{"year":2021,"month":10,"date":17,"utc":true},{"year":2021,"month":11,"date":17,"utc":true},{"year":2021,"month":12,"date":17,"utc":true},
 {"year":2022,"month":1,"date":17,"utc":true},{"year":2022,"month":2,"date":17,"utc":true},{"year":2022,"month":3,"date":17,"utc":true},{"year":2022,"month":4,"date":17,"utc":true},{"year":2022,"month":5,"date":17,"utc":true},{"year":2022,"month":6,"date":17,"utc":true},{"year":2022,"month":7,"date":17,"utc":true},{"year":2022,"month":8,"date":17,"utc":true}],
 "labelExpr": "utcFormat(datum.value, '%d-%b-%y')", "labelAngle": -45, "labelFontSize": 21, "labelFont": "Liberation Serif", "labelColor": "#595959", "labelPadding": 8, "labelBaseline": "middle", "labelOverlap": false, "labelFlush": false, "labelBound": false,
 "grid": false, "domainColor": "#d9d9d9", "domainWidth": 1, "tickColor": "#d9d9d9", "tickSize": 6,
 "titleFont": "Liberation Serif", "titleFontSize": 28, "titleFontWeight": "bold", "titleColor": "#595959", "titlePadding": 16}},
"y": {"field": "value", "type": "quantitative", "title": "Daily Average/10,000 population",
 "scale": {"domain": [0, 30], "nice": false},
 "axis": {"values": [0,5,10,15,20,25,30], "grid": true, "gridColor": "#d9d9d9", "gridWidth": 1, "domain": false, "ticks": false,
 "labelFontSize": 20, "labelFont": "Liberation Serif", "labelColor": "#595959", "labelPadding": 18,
 "titleFont": "Liberation Serif", "titleFontSize": 28, "titleFontWeight": "bold", "titleColor": "#595959", "titlePadding": 10}}
},
"layer": [
{
"data": {"name": "series"},
"mark": {"type": "line", "strokeWidth": 3.5, "interpolate": "linear"},
"encoding": {
"color": {"field": "county", "type": "nominal",
 "scale": {"domain": ["CHASE","FURNAS","KEITH","RED WILLOW"], "range": ["#5B9BD5","#70AD47","#FF0000","#7030A0"]},
 "legend": {"orient": "none", "legendX": 238, "legendY": 990, "direction": "horizontal", "title": null, "labelLimit": 0,
  "symbolType": "stroke", "symbolStrokeWidth": 4, "symbolSize": 1300, "labelFontSize": 30, "labelFont": "Liberation Serif", "labelColor": "#595959", "columnPadding": 24, "labelOffset": 3}}
}
},
{
"data": {"name": "leaders"},
"mark": {"type": "line", "color": "#A6A6A6", "strokeWidth": 1.2},
"encoding": {
"detail": {"field": "note", "type": "nominal"},
"order": {"field": "step", "type": "quantitative"}
}
},
{
"data": {"name": "notes"},
"mark": {"type": "text", "font": "Liberation Serif", "fontSize": 21, "fontWeight": "bold", "align": "center", "baseline": "middle"},
"encoding": {
"text": {"field": "note", "type": "nominal"},
"color": {"field": "note", "type": "nominal", "scale": {"domain": ["CHASE","FURNAS","KEITH","RED WILLOW"], "range": ["#2F5597","#548235","#FF0000","#7030A0"]}, "legend": null}
}
}
],
"resolve": {"scale": {"color": "independent"}}
}
